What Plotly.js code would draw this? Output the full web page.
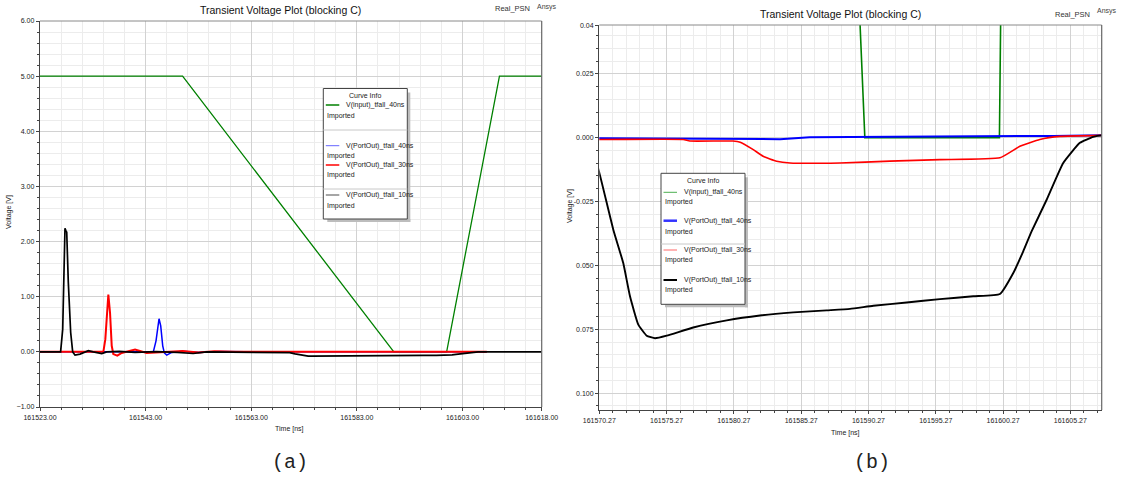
<!DOCTYPE html>
<html>
<head>
<meta charset="utf-8">
<script src="https://cdn.plot.ly/plotly-3.0.1.min.js"></script>
<style>
  html, body { margin: 0; padding: 0; background: #ffffff; }
  #plot { width: 1123px; height: 477px; }
</style>
</head>
<body>
<div id="plot"></div>
<script>
// ---- Curve data: time [ns] and voltage [V] ----
const tInput = [161523, 161550, 161590, 161600, 161610, 161618];
const vInput = [5, 5, 0, 0, 5, 5];

const tOut40 = [161523, 161544.46, 161544.97, 161545.3, 161545.54, 161545.86, 161546.24, 161546.54,
  161547.0, 161547.94, 161550, 161553, 161557, 161562, 161570.27, 161576, 161583.7, 161585.9,
  161600, 161604, 161607.6];
const vOut40 = [0, 0, 0.2, 0.45, 0.6, 0.47, 0.11, -0.02,
  -0.06, -0.01, 0.01, -0.01, 0.005, 0, -0.0002, -0.0005, -0.0006, 0.0002,
  0.0004, 0.0007, 0.0009];

const tOut30 = [161523, 161535.0, 161535.37, 161535.7, 161535.94, 161536.26, 161536.58, 161536.88,
  161537.64, 161538.47, 161541.0, 161543.2, 161546, 161550, 161553, 161556, 161560,
  161570.27, 161576.5, 161577, 161580.2, 161580.74, 161581.71, 161582.45, 161583.45, 161584.44,
  161588.15, 161591.87, 161595.58, 161600.04, 161601.52, 161603.0, 161604.5, 161607.6];
const vOut30 = [0, 0, 0.23, 0.7, 1.04, 0.71, 0.11, -0.04,
  -0.07, -0.02, 0.04, -0.02, 0, 0.015, -0.01, 0.01, 0,
  -0.0007, -0.0007, -0.0013, -0.0013, -0.0018, -0.0047, -0.0073, -0.0092, -0.0099,
  -0.0099, -0.0092, -0.0086, -0.0079, -0.0034, -0.0007, 0.0005, 0.0009];

const tOut10 = [161523, 161526.9, 161527.3, 161527.5, 161527.73, 161527.9, 161528.06, 161528.36,
  161528.81, 161529.19, 161529.63, 161530.58, 161532.15, 161533.09, 161534.69, 161535.63,
  161538, 161541, 161545, 161549, 161552.0, 161554.5, 161560, 161569.2, 161569.7,
  161570.27, 161571.31, 161572.05, 161572.55, 161573.17, 161573.79, 161574.41, 161575.28,
  161577.25, 161579.74, 161582.21, 161584.68, 161587.16, 161588.9, 161590.63, 161593.11,
  161595.58, 161598.06, 161600.04, 161601.03, 161601.77, 161602.39, 161603.51, 161604.74,
  161605.98, 161606.97, 161607.6, 161612, 161618];
const vOut10 = [0, 0, 0.41, 1.5, 2.24, 2.2, 2.17, 1.26,
  0.35, 0, -0.06, -0.04, 0.02, 0, -0.03, 0,
  0.01, -0.01, 0.005, -0.01, -0.03, 0, 0, 0, -0.004,
  -0.0137, -0.036, -0.0491, -0.0621, -0.0732, -0.0775, -0.0785, -0.0775,
  -0.0743, -0.0715, -0.0696, -0.0684, -0.0676, -0.0670, -0.0658, -0.0645,
  -0.0632, -0.0621, -0.0612, -0.0530, -0.0445, -0.0367, -0.0243, -0.0099,
  -0.0020, 0.0003, 0.0009, 0, 0];

const curveNames = ['V(input)_tfall_40ns', 'V(PortOut)_tfall_40ns', 'V(PortOut)_tfall_30ns', 'V(PortOut)_tfall_10ns'];

// ---- Tick labels ----
const xTicksFull = [161523, 161543, 161563, 161583, 161603, 161618];
const xTickTextFull = xTicksFull.map(v => v.toFixed(2));
const xTicksZoom = [161570.27, 161575.27, 161580.27, 161585.27, 161590.27, 161595.27, 161600.27, 161605.27];
const xTickTextZoom = xTicksZoom.map(v => v.toFixed(2));
const yTicksZoom = [0.044, 0.025, 0, -0.025, -0.05, -0.075, -0.1];
const yTickTextZoom = ['0.04', '0.025', '0.000', '-0.025', '0.050', '0.075', '0.100'];

// ---- Page geometry helpers (pixel -> paper fraction) ----
const W = 1123, H = 477;
const px = x => x / W;
const py = y => 1 - y / H;
const FONT = 'Liberation Sans, Arial, sans-serif';

// line styles: full view (A) and zoomed view (B)
const series = [
  {t: tInput, v: vInput, color: '#008000', wA: 1.3, wB: 1.6, shapeB: 'linear'},
  {t: tOut40, v: vOut40, color: '#0000ff', wA: 1.5, wB: 2.0, shapeB: 'linear'},
  {t: tOut30, v: vOut30, color: '#ff0000', wA: 2.0, wB: 1.6, shapeB: 'spline'},
  {t: tOut10, v: vOut10, color: '#000000', wA: 1.7, wB: 1.9, shapeB: 'spline'}
];

const traces = [];
series.forEach((s, i) => {
  traces.push({x: s.t, y: s.v, type: 'scatter', mode: 'lines', name: curveNames[i],
    xaxis: 'x', yaxis: 'y', line: {color: s.color, width: s.wA}, showlegend: false, hoverinfo: 'skip'});
});
series.forEach((s, i) => {
  const line = {color: s.color, width: s.wB, shape: s.shapeB};
  if (s.shapeB === 'spline') line.smoothing = 0.4;
  traces.push({x: s.t, y: s.v, type: 'scatter', mode: 'lines', name: curveNames[i],
    xaxis: 'x2', yaxis: 'y2', line: line, showlegend: false, hoverinfo: 'skip'});
});

function axisBase() {
  return {
    showline: true, linecolor: '#444', linewidth: 1.3,
    ticks: 'outside', ticklen: 3, tickcolor: '#444', tickwidth: 1,
    tickfont: {family: FONT, size: 7, color: '#222'},
    showgrid: true, gridcolor: '#d2d2d2', gridwidth: 1,
    zeroline: false, fixedrange: true
  };
}
function minorBase(tick0, dtick) {
  return {tickmode: 'linear', tick0: tick0, dtick: dtick, showgrid: true,
    gridcolor: '#ececec', gridwidth: 1, ticks: 'outside', ticklen: 2, tickcolor: '#444'};
}

const areaA = {x0: 40, x1: 541.7, y0: 21, y1: 407};
const areaB = {x0: 599.3, x1: 1101.7, y0: 25, y1: 410};

const layout = {
  width: W, height: H,
  margin: {l: 0, r: 0, t: 0, b: 0},
  paper_bgcolor: '#ffffff', plot_bgcolor: '#ffffff',
  showlegend: false,
  xaxis: Object.assign(axisBase(), {
    domain: [px(areaA.x0), px(areaA.x1)], range: [161523, 161618], anchor: 'y',
    tickmode: 'array', tickvals: xTicksFull, ticktext: xTickTextFull,
    minor: minorBase(161523, 4)
  }),
  yaxis: Object.assign(axisBase(), {
    domain: [py(areaA.y1), py(areaA.y0)], range: [-1, 6], anchor: 'x',
    tickmode: 'linear', tick0: 0, dtick: 1, tickformat: '.2f',
    minor: minorBase(0, 0.2)
  }),
  xaxis2: Object.assign(axisBase(), {
    domain: [px(areaB.x0), px(areaB.x1)], range: [161570.27, 161607.6], anchor: 'y2',
    tickmode: 'array', tickvals: xTicksZoom, ticktext: xTickTextZoom,
    minor: minorBase(161570.27, 1)
  }),
  yaxis2: Object.assign(axisBase(), {
    domain: [py(areaB.y1), py(areaB.y0)], range: [-0.1066, 0.0441], anchor: 'x2',
    tickmode: 'array', tickvals: yTicksZoom, ticktext: yTickTextZoom,
    minor: minorBase(0, 0.005)
  }),
  shapes: [],
  annotations: []
};

function text(x, y, s, size, opts) {
  layout.annotations.push(Object.assign({
    xref: 'paper', yref: 'paper', x: px(x), y: py(y), text: s, showarrow: false,
    xanchor: 'center', yanchor: 'middle',
    font: {family: FONT, size: size, color: '#111'}
  }, opts || {}));
}
function rect(x0, y0, x1, y1, line, fill) {
  layout.shapes.push({type: 'rect', xref: 'paper', yref: 'paper', layer: 'above',
    x0: px(x0), x1: px(x1), y0: py(y1), y1: py(y0),
    line: line, fillcolor: fill});
}
function seg(x0, y0, x1, y1, color, width) {
  layout.shapes.push({type: 'line', xref: 'paper', yref: 'paper', layer: 'above',
    x0: px(x0), x1: px(x1), y0: py(y0), y1: py(y1), line: {color: color, width: width}});
}

// plot frames (top and right borders)
[areaA, areaB].forEach(a => {
  seg(a.x0, a.y0, a.x1, a.y0, '#8a8a8a', 1);
  seg(a.x1, a.y0, a.x1, a.y1, '#666', 1.2);
});

// headings
text(280, 10, 'Transient Voltage Plot (blocking C)', 10.5);
text(512, 9, 'Real_PSN', 7.5, {font: {family: FONT, size: 7.5, color: '#333'}});
text(547, 7, 'Ansys', 7, {font: {family: FONT, size: 7, color: '#444'}});
text(840, 14, 'Transient Voltage Plot (blocking C)', 10.5);
text(1072, 15, 'Real_PSN', 7.5, {font: {family: FONT, size: 7.5, color: '#333'}});
text(1107, 11, 'Ansys', 7, {font: {family: FONT, size: 7, color: '#444'}});

// axis titles
const axisTitleFont = {family: FONT, size: 7, color: '#222'};
text(9, 212, 'Voltage [V]', 7, {textangle: -90, font: axisTitleFont});
text(289, 429, 'Time [ns]', 7, {font: axisTitleFont});
text(570, 206, 'Voltage [V]', 7, {textangle: -90, font: axisTitleFont});
text(845, 433, 'Time [ns]', 7, {font: axisTitleFont});

// panel captions
const captionFont = {family: 'Liberation Mono, Courier New, monospace', size: 20, color: '#222'};
text(290, 462, '(a)', 20, {font: captionFont});
text(872, 462, '(b)', 20, {font: captionFont});

// "Curve Info" boxes
const legendFont = {family: FONT, size: 7, color: '#222'};
function curveInfo(box, sampleY, importedY, separators, samples) {
  rect(box.x1, box.y0 + 4, box.x1 + 3, box.y1 + 3, {width: 0}, '#bdbdbd');
  rect(box.x0 + 4, box.y1, box.x1 + 3, box.y1 + 3, {width: 0}, '#bdbdbd');
  rect(box.x0, box.y0, box.x1, box.y1, {color: '#444', width: 1}, '#ffffff');
  separators.forEach(y => seg(box.x0, y, box.x1, y, '#c8c8c8', 1));
  text((box.x0 + box.x1) / 2, box.y0 + 7, 'Curve Info', 7, {font: legendFont});
  curveNames.forEach((name, i) => {
    seg(box.x0 + 2.5, sampleY[i], box.x0 + 16, sampleY[i], samples[i].color, samples[i].width);
    text(box.x0 + 21, sampleY[i], name, 7, {xanchor: 'left', font: legendFont});
    text(box.x0 + 1.5, importedY[i], 'Imported', 7, {xanchor: 'left', font: legendFont});
  });
}
curveInfo({x0: 323.3, y0: 88.5, x1: 407.3, y1: 219},
  [105, 145.7, 165, 195], [116, 155.7, 175, 205.7], [130, 189],
  [{color: '#008000', width: 1.5}, {color: '#6666ff', width: 1}, {color: '#ff0000', width: 1.5}, {color: '#888888', width: 1.5}]);
curveInfo({x0: 661, y0: 173.3, x1: 745, y1: 304.3},
  [192.3, 220.7, 250, 280], [201.7, 231.7, 260, 290], [244],
  [{color: '#4caf50', width: 1}, {color: '#3333ff', width: 2.5}, {color: '#ff8080', width: 1.2}, {color: '#000000', width: 2}]);

Plotly.newPlot('plot', traces, layout, {staticPlot: true, displayModeBar: false});
</script>
</body>
</html>
